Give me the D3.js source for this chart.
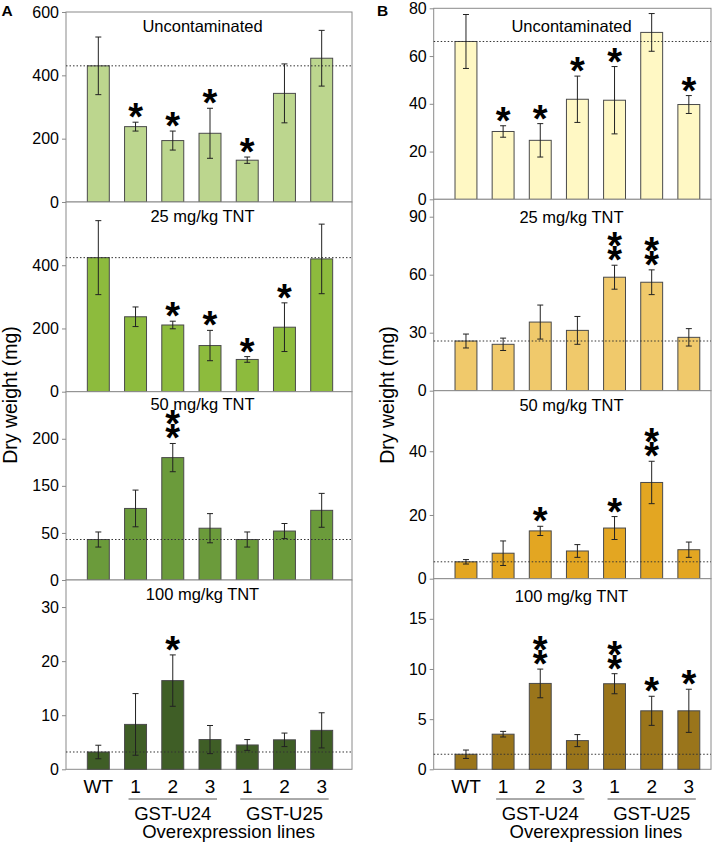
<!DOCTYPE html>
<html>
<head>
<meta charset="utf-8">
<script src="https://cdn.jsdelivr.net/npm/d3@7"></script>
<style>
  body { margin: 0; background: #fff; }
  svg { display: block; font-family: "Liberation Sans", Arial, sans-serif; }
</style>
</head>
<body>
<svg width="722" height="845"></svg>
<script>
// categories (x axis)
var lines = ["WT", "U24-1", "U24-2", "U24-3", "U25-1", "U25-2", "U25-3"];
var lineLabels = ["WT", "1", "2", "3", "1", "2", "3"];
var titles = ["Uncontaminated", "25 mg/kg TNT", "50 mg/kg TNT", "100 mg/kg TNT"];

// panel A (green) - mean, error, number of stars
var aUncMean = [430, 238, 194, 217, 132, 343, 454];
var aUncErr  = [91, 14, 30, 79, 10, 93, 88];
var aUncStar = [0, 1, 1, 1, 1, 0, 0];
var a25Mean  = [424, 237, 211, 146, 102, 204, 420];
var a25Err   = [117, 31, 12, 48, 9, 77, 110];
var a25Star  = [0, 0, 1, 1, 1, 1, 0];
var a50Mean  = [43, 76, 130, 55, 43, 52, 74];
var a50Err   = [8, 19.5, 15, 15.5, 8, 8, 18];
var a50Star  = [0, 0, 2, 0, 0, 0, 0];
var a100Mean = [3.2, 8.3, 16.4, 5.5, 4.5, 5.45, 7.2];
var a100Err  = [1.25, 5.7, 4.75, 2.6, 1, 1.25, 3.25];
var a100Star = [0, 0, 1, 0, 0, 0, 0];

// panel B (yellow) - mean, error, number of stars
var bUncMean = [66.1, 28.4, 24.7, 41.9, 41.5, 69.9, 39.7];
var bUncErr  = [11.3, 2.4, 7, 9.7, 14.1, 7.9, 3.75];
var bUncStar = [0, 1, 1, 1, 1, 0, 1];
var b25Mean  = [25.7, 24.0, 35.5, 31.2, 58.7, 56.1, 27.6];
var b25Err   = [3.6, 3.2, 8.8, 7.2, 6.2, 6.4, 4.5];
var b25Star  = [0, 0, 0, 0, 2, 2, 0];
var b50Mean  = [5.3, 8.0, 15.0, 8.7, 15.9, 30.2, 9.1];
var b50Err   = [0.7, 3.85, 1.45, 2, 3.6, 6.65, 2.4];
var b50Star  = [0, 0, 1, 0, 1, 2, 0];
var b100Mean = [1.5, 3.5, 8.56, 2.86, 8.53, 5.83, 5.83];
var b100Err  = [0.42, 0.28, 1.43, 0.6, 1, 1.45, 2.15];
var b100Star = [0, 0, 2, 0, 2, 1, 1];

// y domains and tick values / tick labels
var aMax = [600, 600, 200, 35];
var aTicks = [[0, 200, 400, 600], [0, 200, 400], [0, 50, 100, 150], [0, 10, 20, 30]];
var aTickLabels = [null, null, ["0", "50", "150", "200"], null];
var bMax = [80, 99, 59, 19];
var bTicks = [[0, 20, 40, 60, 80], [0, 30, 60, 90], [0, 20, 40], [0, 5, 10, 15]];

var aColors = ["#bcd68e", "#8dbb3d", "#6b9b3b", "#3f5e26"];
var bColors = ["#fff8c4", "#f0c96b", "#e3a622", "#9a751b"];

var svg = d3.select("svg");

// layout of both columns
var columns = [
  {letter: "A", left: 66, right: 352, rows: [12, 202, 391.7, 580, 769.3],
   band: [79.7, 340.3], titleX: 202.5, titleY: [31.5, 221.7, 410, 600], labelX: 17,
   means: [aUncMean, a25Mean, a50Mean, a100Mean], errs: [aUncErr, a25Err, a50Err, a100Err],
   stars: [aUncStar, a25Star, a50Star, a100Star], max: aMax, ticks: aTicks, tickLabels: aTickLabels, colors: aColors},
  {letter: "B", left: 433.7, right: 711, rows: [8.3, 199.3, 390.7, 578.7, 769.3],
   band: [447.4, 707.4], titleX: 571.5, titleY: [32.3, 223.3, 411, 601.7], labelX: 394,
   means: [bUncMean, b25Mean, b50Mean, b100Mean], errs: [bUncErr, b25Err, b50Err, b100Err],
   stars: [bUncStar, b25Star, b50Star, b100Star], max: bMax, ticks: bTicks, tickLabels: [null, null, null, null], colors: bColors}
];

columns.forEach(function(col) {
  var x = d3.scaleBand().domain(lines).range(col.band).paddingInner(0.41).paddingOuter(0.205);
  var bw = x.bandwidth();

  col.means.forEach(function(mean, p) {
    var top = col.rows[p], bottom = col.rows[p + 1];
    var y = d3.scaleLinear().domain([0, col.max[p]]).range([bottom, top]);
    var g = svg.append("g");

    // frame
    g.append("rect")
      .attr("x", col.left).attr("y", top)
      .attr("width", col.right - col.left).attr("height", bottom - top)
      .attr("fill", "#fff").attr("stroke", "#8a8a8a");

    // y axis
    var labels = col.tickLabels[p];
    var axis = d3.axisLeft(y).tickValues(col.ticks[p]).tickSize(4).tickPadding(3)
      .tickFormat(function(d, i) { return labels ? labels[i] : d; });
    var ax = g.append("g").attr("transform", "translate(" + col.left + ",0)").call(axis);
    ax.select(".domain").remove();
    ax.selectAll("line").attr("stroke", "#8a8a8a");
    ax.selectAll("text").attr("font-size", 16).attr("fill", "#000")
      .attr("font-family", "Liberation Sans, Arial, sans-serif");

    var data = lines.map(function(k, i) {
      return {k: k, v: mean[i], e: col.errs[p][i], s: col.stars[p][i]};
    });

    // bars
    g.selectAll(".bar").data(data).enter().append("rect")
      .attr("class", "bar")
      .attr("x", function(d) { return x(d.k); })
      .attr("y", function(d) { return y(d.v); })
      .attr("width", bw)
      .attr("height", function(d) { return y(0) - y(d.v); })
      .attr("fill", col.colors[p])
      .attr("stroke", "#4a4a4a").attr("stroke-width", 1);

    // reference line at WT value
    g.append("line")
      .attr("x1", col.left).attr("x2", col.right)
      .attr("y1", y(mean[0])).attr("y2", y(mean[0]))
      .attr("stroke", "#333").attr("stroke-dasharray", "1.5,2");

    // error bars
    var eb = g.selectAll(".err").data(data).enter().append("g").attr("class", "err")
      .attr("stroke", "#222").attr("stroke-width", 1);
    eb.append("line")
      .attr("x1", function(d) { return x(d.k) + bw / 2; })
      .attr("x2", function(d) { return x(d.k) + bw / 2; })
      .attr("y1", function(d) { return y(d.v + d.e); })
      .attr("y2", function(d) { return y(d.v - d.e); });
    [1, -1].forEach(function(sgn) {
      eb.append("line")
        .attr("x1", function(d) { return x(d.k) + bw / 2 - 3; })
        .attr("x2", function(d) { return x(d.k) + bw / 2 + 3; })
        .attr("y1", function(d) { return y(d.v + sgn * d.e); })
        .attr("y2", function(d) { return y(d.v + sgn * d.e); });
    });

    // significance stars
    data.forEach(function(d) {
      for (var s = 0; s < d.s; s++) {
        g.append("text")
          .attr("x", x(d.k) + bw / 2)
          .attr("y", y(d.v + d.e) + 8 - s * 14)
          .attr("text-anchor", "middle")
          .attr("font-size", 38).attr("font-weight", "bold")
          .text("*");
      }
    });

    // panel title
    g.append("text")
      .attr("x", col.titleX).attr("y", col.titleY[p])
      .attr("text-anchor", "middle").attr("font-size", 16.5)
      .text(titles[p]);
  });

  // x axis labels
  var xa = svg.append("g").attr("transform", "translate(0," + col.rows[4] + ")")
    .call(d3.axisBottom(x).tickSize(0).tickPadding(10.5)
      .tickFormat(function(d, i) { return lineLabels[i]; }));
  xa.select(".domain").remove();
  xa.selectAll("text").attr("font-size", 19).attr("fill", "#000")
    .attr("font-family", "Liberation Sans, Arial, sans-serif");

  // group brackets
  [["GST-U24", lines.slice(1, 4)], ["GST-U25", lines.slice(4, 7)]].forEach(function(grp) {
    var x1 = x(grp[1][0]) + bw / 2 - 7, x2 = x(grp[1][2]) + bw / 2 + 7;
    svg.append("line")
      .attr("x1", x1).attr("x2", x2).attr("y1", 799).attr("y2", 799)
      .attr("stroke", "#555");
    svg.append("text")
      .attr("x", x(grp[1][1]) + bw / 2).attr("y", 820)
      .attr("text-anchor", "middle").attr("font-size", 18.5)
      .text(grp[0]);
  });
  svg.append("text")
    .attr("x", (x(lines[1]) + x(lines[6]) + bw) / 2).attr("y", 838)
    .attr("text-anchor", "middle").attr("font-size", 18.5)
    .text("Overexpression lines");

  // y label
  svg.append("text")
    .attr("transform", "translate(" + col.labelX + ",395) rotate(-90)")
    .attr("text-anchor", "middle").attr("font-size", 19.5)
    .text("Dry weight (mg)");

  // panel letter
  svg.append("text")
    .attr("x", col.letter === "A" ? 1.5 : 377).attr("y", 16)
    .attr("font-size", 15.5).attr("font-weight", "bold")
    .text(col.letter);
});
</script>
</body>
</html>
